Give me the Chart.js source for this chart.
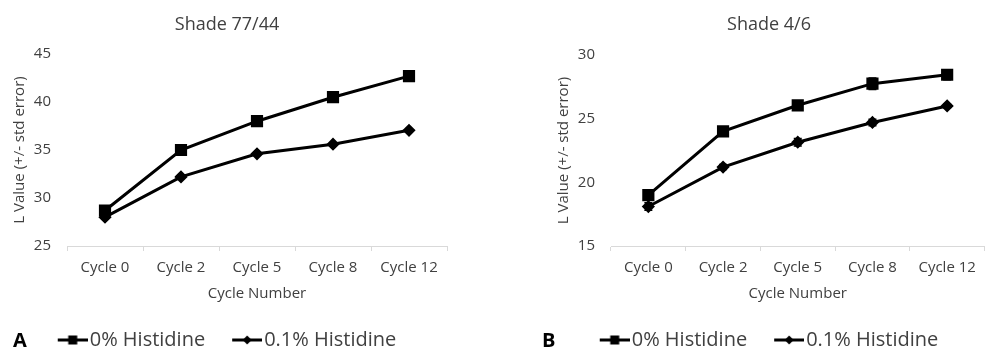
<!DOCTYPE html>
<html>
<head>
<meta charset="utf-8">
<script src="https://cdn.jsdelivr.net/npm/chart.js@4.4.1/dist/chart.umd.min.js"></script>
<style>
html, body { margin: 0; padding: 0; background: #fff; overflow: hidden; }
#wrap { position: relative; width: 988px; height: 349px; overflow: hidden; }
.panel { position: absolute; top: 0; height: 349px; }
#panelA { left: 0; width: 494px; }
#panelB { left: 494px; width: 500px; }
.letra { position: absolute; top: 330px; font: bold 20px/20px "Open Sans"; color: #000; }
</style>
</head>
<body>
<div id="wrap">
  <div class="panel" id="panelA"><canvas id="graficoA"></canvas></div>
  <div class="panel" id="panelB"><canvas id="graficoB"></canvas></div>
  <span class="letra" style="left:13px;">A</span>
  <span class="letra" style="left:542px;">B</span>
</div>
<script>
// Datos
const ciclos = ['Cycle 0', 'Cycle 2', 'Cycle 5', 'Cycle 8', 'Cycle 12'];
const series = ['0% Histidine', '0.1% Histidine'];

// Shade 77/44
const shadeA_0 = [28.7, 35.0, 38.0, 40.5, 42.7];
const shadeA_01 = [28.0, 32.2, 34.6, 35.6, 37.05];
const shadeA_0_err = [0.2, 0.15, 0.15, 0.15, 0.15];
const shadeA_01_err = [0.2, 0.15, 0.15, 0.1, 0.1];
const shadeA_ticks = [25, 45];

// Shade 4/6
const shadeB_0 = [19.0, 24.0, 26.05, 27.75, 28.45];
const shadeB_01 = [18.1, 21.2, 23.15, 24.7, 26.0];
const shadeB_0_err = [0.25, 0.35, 0.25, 0.45, 0.4];
const shadeB_01_err = [0.3, 0.2, 0.3, 0.25, 0.15];
const shadeB_ticks = [15, 30];

const gris = '#404040';
const fuente = { family: 'Open Sans', size: 15 };

// Icono de leyenda: linea con marcador
function iconoLeyenda(forma) {
    const c = document.createElement('canvas');
    c.width = 38;
    c.height = 14;
    const g = c.getContext('2d');
    g.strokeStyle = '#000';
    g.lineWidth = 3;
    g.beginPath();
    g.moveTo(8, 7);
    g.lineTo(38, 7);
    g.stroke();
    g.fillStyle = '#000';
    if (forma === 'rect') {
        g.fillRect(18.5, 2.5, 9, 9);
    } else {
        g.beginPath();
        g.moveTo(23, 2.5);
        g.lineTo(27.5, 7);
        g.lineTo(23, 11.5);
        g.lineTo(18.5, 7);
        g.closePath();
        g.fill();
    }
    return c;
}
const iconos = [iconoLeyenda('rect'), iconoLeyenda('rectRot')];

// Barras de error (+/- error estandar)
const barrasError = {
    id: 'barrasError',
    afterDatasetsDraw(chart) {
        const ctx = chart.ctx;
        const y = chart.scales.y;
        const x = chart.scales.x;
        ctx.save();
        ctx.strokeStyle = '#000';
        ctx.lineWidth = 1.5;
        chart.data.datasets.forEach(ds => {
            ds.data.forEach((v, i) => {
                const e = ds.errores[i];
                const px = x.getPixelForValue(i);
                const y1 = y.getPixelForValue(v + e);
                const y2 = y.getPixelForValue(v - e);
                ctx.beginPath();
                ctx.moveTo(px, y1); ctx.lineTo(px, y2);
                ctx.moveTo(px - 4, y1); ctx.lineTo(px + 4, y1);
                ctx.moveTo(px - 4, y2); ctx.lineTo(px + 4, y2);
                ctx.stroke();
            });
        });
        ctx.restore();
    }
};

function crearGrafico(id, titulo, datos0, datos01, err0, err01, rango, conf) {
    const ctx = document.getElementById(id).getContext('2d');
    return new Chart(ctx, {
        type: 'line',
        data: {
            labels: ciclos,
            datasets: [{
                label: series[0],
                data: datos0,
                errores: err0,
                borderColor: '#000',
                backgroundColor: '#000',
                borderWidth: 3,
                pointStyle: 'rect',
                pointRadius: 6.5,
                pointHoverRadius: 6.5,
                tension: 0
            },
            {
                label: series[1],
                data: datos01,
                errores: err01,
                borderColor: '#000',
                backgroundColor: '#000',
                borderWidth: 3,
                pointStyle: 'rectRot',
                pointRadius: 4.5,
                pointHoverRadius: 4.5,
                tension: 0
            }]
        },
        options: {
            responsive: true,
            maintainAspectRatio: false,
            animation: false,
            layout: { padding: { left: conf.izq, right: conf.der, top: 0, bottom: 0 } },
            plugins: {
                tooltip: { enabled: false },
                title: {
                    display: true,
                    text: titulo,
                    color: gris,
                    font: { family: 'Open Sans', size: 18, weight: 'normal' },
                    padding: { top: 14, bottom: conf.tituloAbajo }
                },
                legend: {
                    position: 'bottom',
                    maxHeight: 46,
                    labels: {
                        usePointStyle: true,
                        pointStyleWidth: 22,
                        padding: 27,
                        color: gris,
                        font: { family: 'Open Sans', size: 20 },
                        generateLabels: (chart) => {
                            const items = Chart.defaults.plugins.legend.labels.generateLabels(chart);
                            items.forEach((it, i) => { it.pointStyle = iconos[i]; });
                            return items;
                        }
                    }
                }
            },
            scales: {
                x: {
                    offset: true,
                    grid: { offset: true, drawOnChartArea: false, drawTicks: true, tickLength: 5, color: '#d9d9d9' },
                    border: { display: true, color: '#d9d9d9' },
                    ticks: { padding: 8, color: gris, font: fuente },
                    title: { display: true, text: 'Cycle Number', color: gris, font: fuente, padding: { top: 8, bottom: 0 } },
                    afterFit: (s) => { s.height = 57; }
                },
                y: {
                    min: rango[0],
                    max: rango[1],
                    grid: { display: false, drawTicks: false },
                    border: { display: false },
                    ticks: { stepSize: 5, padding: 16, color: gris, font: fuente },
                    title: { display: true, text: 'L Value (+/- std error)', color: gris, font: fuente, padding: { top: conf.tituloY, bottom: 0 } },
                    afterFit: (s) => { s.width = conf.anchoY; }
                }
            }
        },
        plugins: [barrasError]
    });
}

crearGrafico('graficoA', 'Shade 77/44', shadeA_0, shadeA_01, shadeA_0_err, shadeA_01_err, shadeA_ticks,
    { izq: 7, der: 47, anchoY: 60, tituloY: 4, tituloAbajo: 18.4 });
crearGrafico('graficoB', 'Shade 4/6', shadeB_0, shadeB_01, shadeB_0_err, shadeB_01_err, shadeB_ticks,
    { izq: 53, der: 3, anchoY: 64, tituloY: 8, tituloAbajo: 19.4 });
</script>
</body>
</html>
